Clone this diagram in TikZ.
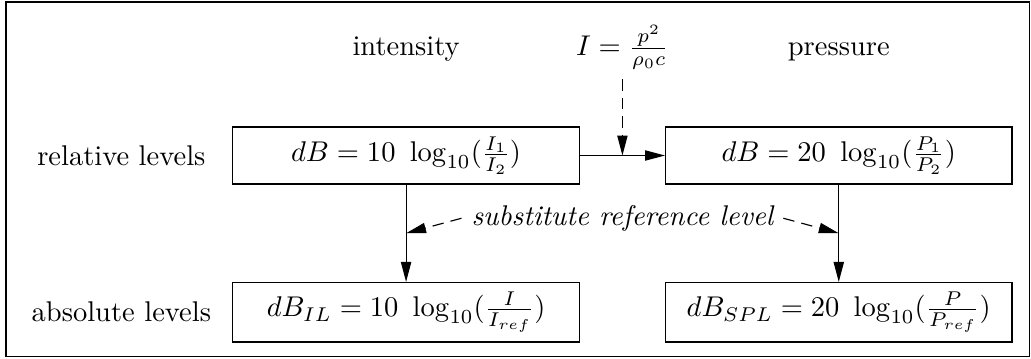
\documentclass[tikz,border=0pt]{standalone}
\usetikzlibrary{arrows.meta, positioning, calc}
\begin{document}
\begin{tikzpicture}[
    node distance=1.05cm,
    lvl/.style={draw, minimum width=4.27cm, minimum height=0.7cm, align=center},
    dsh/.style={dash pattern=on 4pt off 2.5pt},
    >={Triangle[length=7pt, width=3.6pt]}]
  \useasboundingbox (0,0) rectangle (12.71,-4.414);
  \draw (0.074,-0.025) rectangle (12.69,-4.39);
  % the four level boxes
  \node[lvl] (relI) at (5.006,-1.917) {$dB = 10\ \log_{10}(\frac{I_1}{I_2})$};
  \node[lvl, right=1.05cm of relI] (relP) {$dB = 20\ \log_{10}(\frac{P_1}{P_2})$};
  \node[lvl, below=1.2cm of relI] (absI) {$dB_{IL} = 10\ \log_{10}(\frac{I}{I_{ref}})$};
  \node[lvl, below=1.2cm of relP] (absP) {$dB_{SPL} = 20\ \log_{10}(\frac{P}{P_{ref}})$};
  % row and column labels
  \node[above=0.68cm of relI] (inten) {intensity};
  \node[above=0.68cm of relP] (press) {pressure};
  \node[xshift=-3.51cm] (relLbl) at (relI) {relative levels};
  \node[xshift=-3.51cm] (absLbl) at (absI) {absolute levels};
  % conversion between intensity and pressure
  \coordinate (join) at ($(relI.east)!0.5!(relP.west)$);
  \node[anchor=base] (conv) at (join |- inten.base) {$I = \frac{p^2}{\rho_0 c}$};
  \draw[->] (relI) -- (relP);
  \draw[->, dsh] (conv) -- (join);
  % relative to absolute
  \draw[->] (relI) -- (absI);
  \draw[->] (relP) -- (absP);
  \coordinate (midI) at ($(relI.south)!0.5!(absI.north)$);
  \coordinate (midP) at ($(relP.south)!0.5!(absP.north)$);
  \node[font=\itshape] (subst) at ($(midI)!0.5!(midP)+(0,0.185)$) {substitute reference level};
  \draw[->, dsh] (subst.west) -- (midI);
  \draw[->, dsh] (subst.east) -- (midP);
\end{tikzpicture}
\end{document}
